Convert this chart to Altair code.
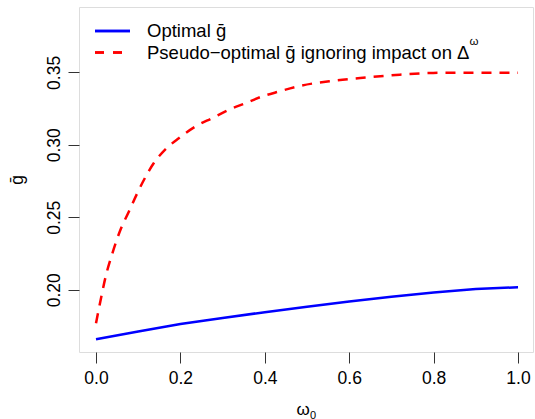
import altair as alt
import pandas as pd

# Data
omega_opt = [0.0, 0.1, 0.2, 0.3, 0.4, 0.5, 0.6, 0.7, 0.8, 0.9, 1.0]
g_opt = [0.1658, 0.1712, 0.1763, 0.1805, 0.1845, 0.1882, 0.1918, 0.1952, 0.1981, 0.2005, 0.2017]

omega_ps = [0.0, 0.011, 0.023, 0.039, 0.058, 0.078, 0.098, 0.118, 0.137, 0.165, 0.197,
            0.236, 0.276, 0.315, 0.355, 0.394, 0.434, 0.481, 0.562, 0.641, 0.720,
            0.799, 0.878, 1.0]
g_ps = [0.1768, 0.1929, 0.2092, 0.2253, 0.2414, 0.2540, 0.2667, 0.2782, 0.2874, 0.2970,
        0.3047, 0.3127, 0.3185, 0.3242, 0.3288, 0.3334, 0.3368, 0.3405, 0.3442, 0.3465,
        0.3484, 0.3496, 0.3498, 0.3498]

x_ticks = [0.0, 0.2, 0.4, 0.6, 0.8, 1.0]
y_ticks = [0.20, 0.25, 0.30, 0.35]

legend_labels = ["Optimal ḡ", "Pseudo−optimal ḡ ignoring impact on Δ"]
x_title = ["ω", "0"]
y_title = "ḡ"

FONT = "Liberation Sans"
FS = 17.5
LFS = 18.5
W, H = 454, 345

df_opt = pd.DataFrame({"omega": omega_opt, "g": g_opt})
df_ps = pd.DataFrame({"omega": omega_ps, "g": g_ps})

xscale = alt.Scale(domain=[-0.0403, 1.0355], nice=False, zero=False)
yscale = alt.Scale(domain=[0.1570, 0.3951], nice=False, zero=False)

xaxis = alt.Axis(values=x_ticks, format=".1f", title="", grid=False, domain=False,
                 tickSize=11, tickColor="#333", labelPadding=6, labelFontSize=FS,
                 labelFont=FONT, labelColor="black")
yaxis = alt.Axis(values=y_ticks, format=".2f", title=y_title, grid=False, domain=False,
                 tickSize=11, tickColor="#333", labelPadding=5, labelFontSize=FS,
                 labelFont=FONT, labelColor="black", labelAngle=270, labelAlign="center",
                 labelBaseline="bottom", titleFont=FONT, titleFontSize=FS,
                 titleFontWeight="normal", titleColor="black", titleAngle=270,
                 titleX=-62, titleY=H / 2, titleAlign="center", titleBaseline="middle")

line_opt = alt.Chart(df_opt).mark_line(color="#0000FF", strokeWidth=2.5).encode(
    x=alt.X("omega:Q", scale=xscale, axis=xaxis),
    y=alt.Y("g:Q", scale=yscale, axis=yaxis),
)
line_ps = alt.Chart(df_ps).mark_line(color="#FF0000", strokeWidth=2.5, strokeDash=[10, 8],
                                     interpolate="monotone").encode(
    x=alt.X("omega:Q", scale=xscale),
    y=alt.Y("g:Q", scale=yscale),
)

def txt(s, x, y, size, baseline="middle"):
    return alt.Chart(pd.DataFrame({"label": [s]})).mark_text(
        align="left", baseline=baseline, font=FONT, fontSize=size, color="black").encode(
        x=alt.value(x), y=alt.value(y), text="label:N")

leg_df = pd.DataFrame({"label": legend_labels})
leg_blue = alt.Chart(leg_df).mark_rule(color="#0000FF", strokeWidth=2.5).encode(
    x=alt.value(16), x2=alt.value(51), y=alt.value(24))
leg_red = alt.Chart(leg_df).mark_rule(color="#FF0000", strokeWidth=2.5, strokeDash=[9, 9]).encode(
    x=alt.value(16), x2=alt.value(51), y=alt.value(45.5))
leg_t1 = txt(legend_labels[0], 68, 24, LFS)
leg_t2 = txt(legend_labels[1], 68, 45.5, LFS)
leg_sup = txt("ω", 390.5, 35, 11.5)

xt1 = txt(x_title[0], 217.5, 408, 17, baseline="alphabetic")
xt2 = txt(x_title[1], 231, 411.5, 11, baseline="alphabetic")

chart = alt.layer(line_opt, line_ps, leg_blue, leg_red, leg_t1, leg_t2, leg_sup, xt1, xt2).properties(
    width=W, height=H,
    autosize=alt.AutoSizeParams(type="none"),
    padding={"left": 79, "top": 7, "right": 2, "bottom": 67},
).configure_view(stroke="black", strokeWidth=1).configure(background="white")

chart.save("out.html", embed_options={"renderer": "svg", "actions": False})
